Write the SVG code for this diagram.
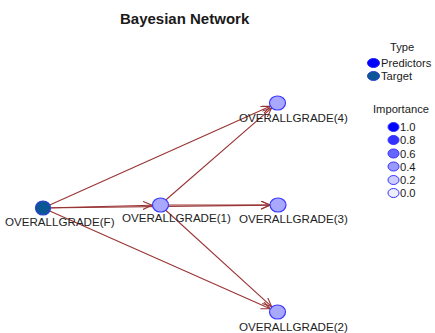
<svg xmlns="http://www.w3.org/2000/svg" width="435" height="333" viewBox="0 0 435 333">
<style>
text{font-family:"Liberation Sans",Arial,sans-serif;fill:#1a1a1a}
.title{font-size:15px;font-weight:bold}
.lbl{font-size:11.6px;fill:#222}
.leg{font-size:11.2px}
.edge{stroke:#993333;stroke-width:1.1;fill:none;marker-end:url(#arr)}
.pred{fill:#a8a8ff;stroke:#3a3aff;stroke-width:1.2}
.tgt{fill:#0b5694;stroke:#2a3fd0;stroke-width:1.2}
.imp{stroke:#3333ff;stroke-width:1}
</style>
<defs>
<marker id="arr" markerWidth="10" markerHeight="10" refX="9" refY="4" orient="auto" markerUnits="userSpaceOnUse">
<path d="M0,0 L9,4 L0,8" fill="none" stroke="#993333" stroke-width="1.1"/>
</marker>
</defs>
<rect width="435" height="333" fill="#ffffff"/>
<text class="title" x="120" y="24">Bayesian Network</text>
<g id="connectors">
<line class="edge" x1="43" y1="208" x2="270.2" y2="106.3"/>
<line class="edge" x1="43" y1="208" x2="152" y2="205.2"/>
<line class="edge" x1="43" y1="208" x2="270" y2="205.1"/>
<line class="edge" x1="43" y1="208" x2="270.2" y2="308.8"/>
<line class="edge" x1="160" y1="205" x2="271.5" y2="108.2"/>
<line class="edge" x1="160" y1="205" x2="270" y2="205"/>
<line class="edge" x1="160" y1="205" x2="271.6" y2="306.6"/>
</g>
<g id="nodeF">
<ellipse class="tgt" cx="43" cy="208" rx="7.5" ry="7"/>
<text class="lbl" x="5" y="226">OVERALLGRADE(F)</text>
</g>
<g id="node1">
<ellipse class="pred" cx="160.5" cy="205" rx="8" ry="7"/>
<text class="lbl" x="122" y="222">OVERALLGRADE(1)</text>
</g>
<g id="node4">
<ellipse class="pred" cx="277.5" cy="103" rx="8" ry="7"/>
<text class="lbl" x="239" y="122">OVERALLGRADE(4)</text>
</g>
<g id="node3">
<ellipse class="pred" cx="278" cy="205" rx="8" ry="7"/>
<text class="lbl" x="239" y="223">OVERALLGRADE(3)</text>
</g>
<g id="node2">
<ellipse class="pred" cx="277.5" cy="312" rx="8" ry="7"/>
<text class="lbl" x="239" y="331">OVERALLGRADE(2)</text>
</g>
<g id="legend">
<text class="leg" x="390" y="51">Type</text>
<ellipse cx="373.5" cy="63" rx="6" ry="4.5" fill="#0000ff" stroke="#2020ff"/>
<text class="leg" x="381" y="67">Predictors</text>
<ellipse cx="373.5" cy="76" rx="6" ry="4.5" fill="#0b5694" stroke="#2a3fd0"/>
<text class="leg" x="381" y="80">Target</text>
<text class="leg" x="373" y="113">Importance</text>
<ellipse class="imp" cx="393.5" cy="127" rx="5.5" ry="4.5" fill="#0000ff"/>
<text class="leg" x="400" y="131">1.0</text>
<ellipse class="imp" cx="393.5" cy="140" rx="5.5" ry="4.5" fill="#3333ff"/>
<text class="leg" x="400" y="144">0.8</text>
<ellipse class="imp" cx="393.5" cy="153.5" rx="5.5" ry="4.5" fill="#6666ff"/>
<text class="leg" x="400" y="157.5">0.6</text>
<ellipse class="imp" cx="393.5" cy="166.5" rx="5.5" ry="4.5" fill="#9999ff"/>
<text class="leg" x="400" y="170.5">0.4</text>
<ellipse class="imp" cx="393.5" cy="180" rx="5.5" ry="4.5" fill="#ccccff"/>
<text class="leg" x="400" y="184">0.2</text>
<ellipse class="imp" cx="393.5" cy="193" rx="5.5" ry="4.5" fill="#eeeeff"/>
<text class="leg" x="400" y="197">0.0</text>
</g>
</svg>
